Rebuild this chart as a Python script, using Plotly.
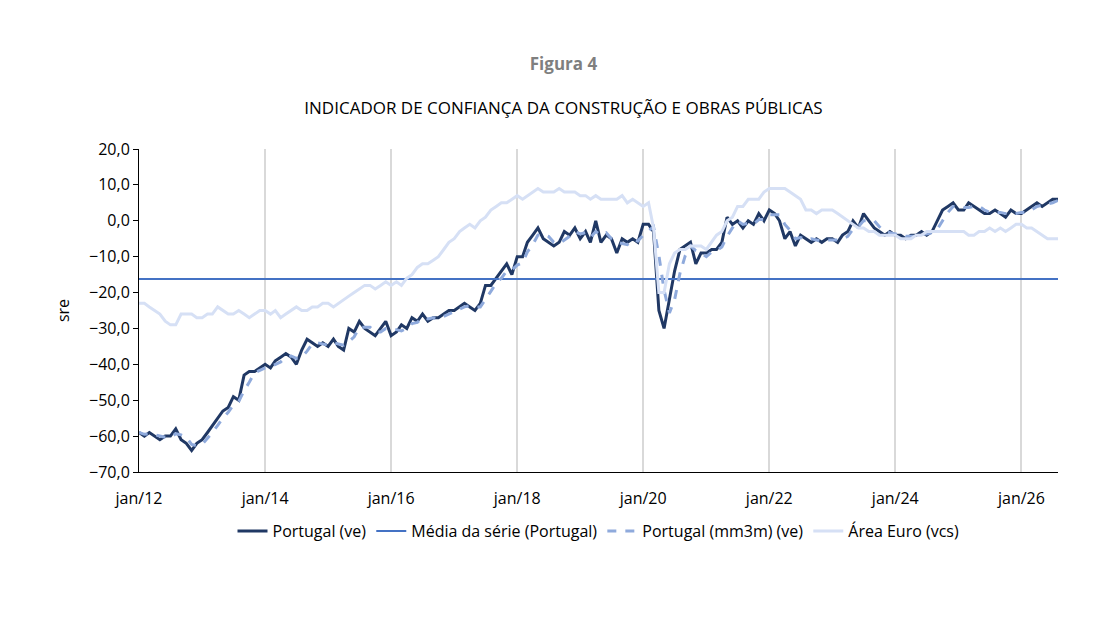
import pandas as pd
import plotly.graph_objects as go

dates = pd.date_range("2012-01-01", periods=176, freq="MS")

portugal = [
    -59, -60, -59, -60, -61, -60, -60, -58, -61, -62, -64, -62,
    -61, -59, -57, -55, -53, -52, -49, -50, -43, -42, -42, -41,
    -40, -41, -39, -38, -37, -38, -40, -36, -33, -34, -35, -34,
    -35, -33, -35, -36, -30, -31, -28, -30, -31, -32, -30, -28,
    -32, -31, -29, -30, -27, -28, -26, -28, -27, -27, -26, -25,
    -25, -24, -23, -24, -25, -23, -18, -18, -16, -14, -12, -15,
    -10, -10, -6, -4, -2, -5, -6, -7, -6, -3, -4, -2,
    -5, -3, -6, 0, -6, -4, -5, -9, -5, -6, -5, -6,
    -1, -1, -3, -25, -30, -22, -14, -8, -7, -6, -12, -9,
    -9, -8, -8, -6, 1, -1, 0, -2, 0, -1, 2, 0,
    3, 2, 0, -5, -3, -7, -4, -5, -6, -5, -6, -5,
    -5, -6, -4, -3, 0, -2, 2, 0, -2, -3, -4, -3,
    -4, -4, -5, -4, -4, -3, -4, -3, 0, 3, 4, 5,
    3, 3, 5, 4, 3, 2, 2, 3, 2, 1, 3, 2,
    2, 3, 4, 5, 4, 5, 6, 6,
]
euro = [
    -23, -23, -24, -25, -26, -28, -29, -29, -26, -26, -26, -27,
    -27, -26, -26, -24, -25, -26, -26, -25, -26, -27, -26, -25,
    -25, -26, -25, -27, -26, -25, -24, -25, -25, -24, -24, -23,
    -23, -24, -23, -22, -21, -20, -19, -18, -18, -19, -18, -17,
    -18, -17, -18, -16, -15, -13, -12, -12, -11, -10, -8, -6,
    -5, -3, -2, -1, -2, 0, 1, 3, 4, 5, 5, 6,
    7, 6, 7, 8, 9, 8, 8, 8, 9, 8, 8, 8,
    7, 7, 6, 7, 6, 6, 6, 6, 7, 5, 6, 5,
    4, 5, -2, -20, -20, -12, -9, -8, -8, -7, -7, -7,
    -8, -6, -4, -3, 0, 1, 4, 4, 6, 6, 6, 8,
    9, 9, 9, 9, 8, 7, 6, 3, 3, 2, 3, 3,
    3, 2, 1, 0, -1, -2, -2, -3, -3, -4, -4, -4,
    -4, -5, -5, -5, -4, -4, -3, -3, -3, -3, -3, -3,
    -3, -3, -4, -4, -3, -3, -2, -3, -2, -3, -2, -1,
    -1, -2, -2, -3, -4, -5, -5, -5,
]
media = -16.2
tick_dates = pd.date_range("2012-01-01", "2026-01-01", freq="24MS")
tick_labels = ["jan/12", "jan/14", "jan/16", "jan/18", "jan/20", "jan/22", "jan/24", "jan/26"]

df = pd.DataFrame({"Portugal": portugal, "Euro": euro}, index=dates)
df["mm3m"] = df["Portugal"].rolling(3, min_periods=1).mean()

fig = go.Figure()
fig.add_trace(go.Scatter(x=dates, y=df["Portugal"], mode="lines", name="Portugal (ve)",
                         line=dict(color="#203864", width=3)))
fig.add_trace(go.Scatter(x=dates, y=[media] * len(dates), mode="lines", name="Média da série (Portugal)",
                         line=dict(color="#4472C4", width=2)))
fig.add_trace(go.Scatter(x=dates, y=df["mm3m"], mode="lines", name="Portugal (mm3m) (ve)",
                         line=dict(color="#8FAADC", width=3, dash="dash")))
fig.add_trace(go.Scatter(x=dates, y=df["Euro"], mode="lines", name="Área Euro (vcs)",
                         line=dict(color="#D6E0F5", width=3)))

fig.update_layout(
    width=1111, height=622, plot_bgcolor="white", paper_bgcolor="white",
    separators=",.",
    font=dict(family="Open Sans", size=16, color="#000"),
    margin=dict(l=131, r=61, t=141, b=158),
    title=dict(text="<b><span style='color:#7f7f7f;font-size:17px'>Figura 4</span></b><br><br>"
                    "INDICADOR DE CONFIANÇA DA CONSTRUÇÃO E OBRAS PÚBLICAS",
               x=0.5, y=0.9, xanchor="center", font=dict(size=17)),
    legend=dict(orientation="h", x=0.5, xanchor="center", y=-0.13, font=dict(size=16)),
    showlegend=True,
)
fig.update_xaxes(range=[dates[0], dates[-1]], tickvals=tick_dates, ticktext=tick_labels,
                 showgrid=True, gridcolor="#d9d9d9", gridwidth=1.5, showline=True,
                 linecolor="#000", ticks="", ticklabelstandoff=12, tickfont=dict(size=16))
fig.update_yaxes(range=[-70, 20], dtick=10, tickformat=".1f", showgrid=False,
                 showline=True, linecolor="#000", ticks="outside", ticklen=5, tickcolor="#000",
                 tickfont=dict(size=16), title=dict(text="sre", font=dict(size=16)), zeroline=False)

fig.write_html("out.html")
